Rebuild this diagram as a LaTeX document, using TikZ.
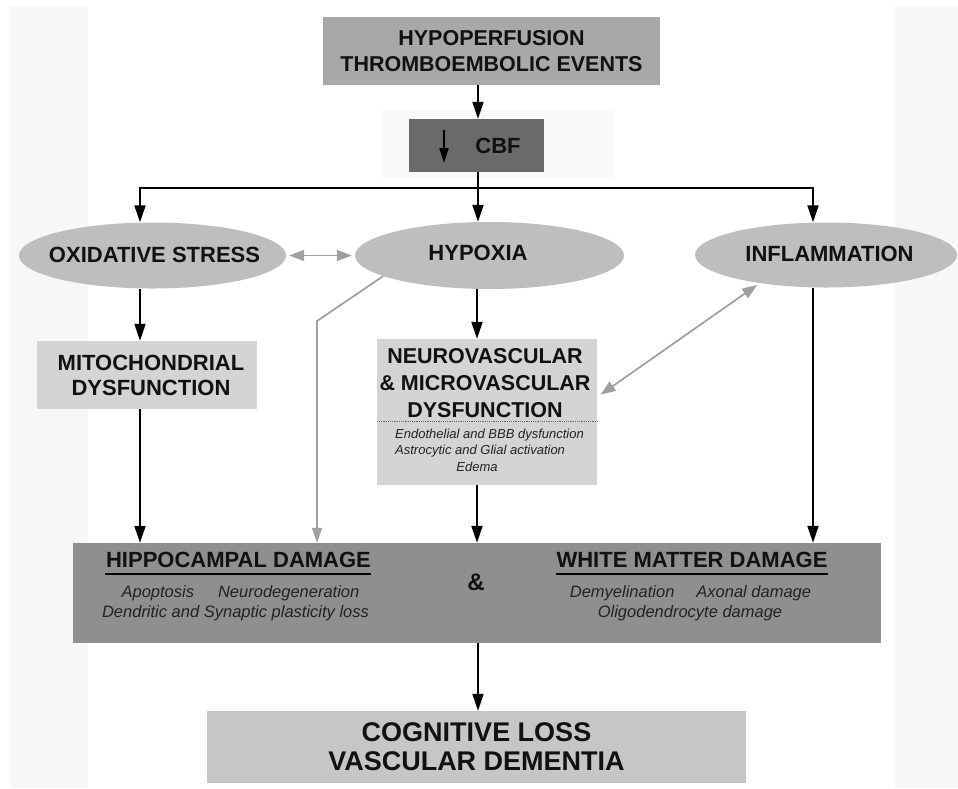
\documentclass[tikz,border=0pt]{standalone}
\usepackage{fontspec}
\setmainfont{Liberation Sans}
\usetikzlibrary{arrows.meta,shapes.geometric}
\definecolor{ctop}{HTML}{A8A8A8}
\definecolor{ccbf}{HTML}{6A6A6A}
\definecolor{cell}{HTML}{BEBEBE}
\definecolor{clight}{HTML}{D4D4D4}
\definecolor{cbot}{HTML}{8F8F8F}
\definecolor{ccog}{HTML}{C6C6C6}
\definecolor{cgarr}{HTML}{A0A0A0}
\definecolor{cstrip}{HTML}{F7F7F7}
\definecolor{ccbfbg}{HTML}{F9F9F9}
\definecolor{ctext}{HTML}{111111}
\definecolor{citext}{HTML}{222222}
\begin{document}
\begin{tikzpicture}[x=1pt,y=-1pt,
  rbox/.style={draw=none,inner sep=0pt,align=center,text=ctext,
    font=\bfseries\fontsize{21.5}{26}\selectfont},
  oval/.style={ellipse,fill=cell,draw=none,inner sep=0pt},
  btxt/.style={inner sep=0pt,align=center,text=ctext,
    font=\bfseries\fontsize{21.5}{27}\selectfont},
  otxt/.style={inner sep=0pt,text=ctext,font=\bfseries\fontsize{22}{26}\selectfont},
  itxt/.style={inner sep=0pt,text=citext,
    font=\itshape\fontsize{16.5}{20}\selectfont},
  stxt/.style={inner sep=0pt,text=citext,align=left,
    font=\itshape\fontsize{13}{16}\selectfont},
  arr/.style={draw=black,line width=2pt,-{Triangle[length=17pt,width=11pt]}},
  garr/.style={draw=cgarr,line width=1.7pt,-{Triangle[length=15pt,width=10pt]}},
  gdbl/.style={draw=cgarr,line width=1.7pt,{Triangle[length=15pt,width=11pt]}-{Triangle[length=15pt,width=11pt]}},
  uline/.style={draw=black,line width=2pt}
]
\useasboundingbox (0,0) rectangle (958,788);
\fill[white] (0,0) rectangle (958,788);
\fill[cstrip] (10,6) rectangle (88,788);
\fill[cstrip] (895,6) rectangle (958,788);
\fill[ccbfbg] (383,110) rectangle (613,178);

% reference x positions
\coordinate (mainx) at (478,0);
\coordinate (oxx) at (140,0);
\coordinate (infx) at (813,0);
\coordinate (nx) at (477,0);
\coordinate (gx) at (317,0);
\coordinate (bar) at (478,188);
\coordinate (gbend) at (317,321);
\coordinate (sepy) at (0,421);

% nodes
\node[rbox,fill=ctop,minimum width=337pt,minimum height=68pt] (hyp) at (491.5,51)
  {HYPOPERFUSION\\THROMBOEMBOLIC EVENTS};
\node[rbox,fill=ccbf,minimum width=135pt,minimum height=53pt] (cbf) at (476.5,145.5) {};
\node[btxt,font=\bfseries\fontsize{22}{26}\selectfont] (cbft) at (498,146) {CBF};
\coordinate (cbfa1) at (444,130);
\coordinate (cbfa2) at (444,163);
\draw[arr,line width=1.7pt,-{Triangle[length=15pt,width=9pt]}] (cbfa1) -- (cbfa2);

\node[oval,minimum width=267pt,minimum height=66pt] (ox) at (152.5,255.5) {};
\node[otxt] (oxT) at (154.5,255) {OXIDATIVE STRESS};
\node[oval,minimum width=269pt,minimum height=67pt] (hypox) at (489.5,255.5) {};
\node[otxt] (hypoxT) at (478,253) {HYPOXIA};
\node[oval,minimum width=262pt,minimum height=65pt] (inf) at (826,255) {};
\node[otxt] (infT) at (829.5,254) {INFLAMMATION};

\node[rbox,fill=clight,minimum width=220pt,minimum height=68pt,
  font=\bfseries\fontsize{22}{25}\selectfont] (mito) at (147,375)
  {\hspace*{8pt}MITOCHONDRIAL\\\hspace*{8pt}DYSFUNCTION};

\node[rbox,fill=clight,minimum width=220pt,minimum height=146pt] (neuro) at (487,412) {};
\node[btxt] (neuroT) at (485,383) {NEUROVASCULAR\\\& MICROVASCULAR\\DYSFUNCTION};
\draw[draw=black!60,line width=0.8pt,dash pattern=on 1.2pt off 1pt] (neuro.west |- sepy) -- (neuro.east |- sepy);
\node[stxt,anchor=west] (neuroS) at (395,443) {Endothelial and BBB dysfunction\\Astrocytic and Glial activation};
\node[stxt] (edema) at (477,467) {Edema};

\node[rbox,fill=cbot,minimum width=808pt,minimum height=100pt] (bottom) at (477,593) {};
\node[btxt,font=\bfseries\fontsize{22}{26}\selectfont] (hipT) at (238.5,560) {HIPPOCAMPAL DAMAGE};
\draw[uline] (hipT.west |- 0,574) ++(-1,0) -- (hipT.east |- 0,574);
\node[itxt] (hip1) at (240.5,593) {Apoptosis\hspace{24pt}Neurodegeneration};
\node[itxt] (hip2) at (235.5,613) {Dendritic and Synaptic plasticity loss};
\node[btxt,font=\bfseries\fontsize{24}{26}\selectfont] (amp) at (476,582) {\&};
\node[btxt,font=\bfseries\fontsize{22}{26}\selectfont] (wmT) at (692,560) {WHITE MATTER DAMAGE};
\draw[uline] (wmT.west |- 0,574) -- (wmT.east |- 0,574);
\node[itxt] (wm1) at (690.5,593) {Demyelination\hspace{22pt}Axonal damage};
\node[itxt] (wm2) at (690,613) {Oligodendrocyte damage};

\node[rbox,fill=ccog,minimum width=539pt,minimum height=72pt,
  font=\bfseries\fontsize{27}{29}\selectfont] (cog) at (476.5,747)
  {COGNITIVE LOSS\\VASCULAR DEMENTIA};

% connectors
\draw[arr] (hyp.south -| mainx) -- (cbf.north -| mainx);
\draw[arr] (cbf.south -| mainx) -- (hypox.north -| mainx);
\draw[arr] (bar) -| (ox.north -| oxx);
\draw[arr] (bar) -| (inf.north -| infx);
\draw[arr] (ox.south -| oxx) -- (mito.north -| oxx);
\draw[arr] (hypox.south -| nx) -- (neuro.north -| nx);
\draw[arr] (mito.south -| oxx) -- (bottom.north -| oxx);
\draw[arr] (neuro.south -| nx) -- (bottom.north -| nx);
\draw[arr] (inf.south -| infx) -- (bottom.north -| infx);
\draw[arr] (bottom.south -| mainx) -- (cog.north -| mainx);

\draw[gdbl,shorten <=3pt,shorten >=3pt] (ox.east) -- (hypox.west);
\draw[garr] (hypox.191) -- (gbend) -- (bottom.north -| gx);
\draw[gdbl,shorten <=3pt,shorten >=4pt] (inf.203) -- ([yshift=15pt]neuro.east);
\end{tikzpicture}
\end{document}
